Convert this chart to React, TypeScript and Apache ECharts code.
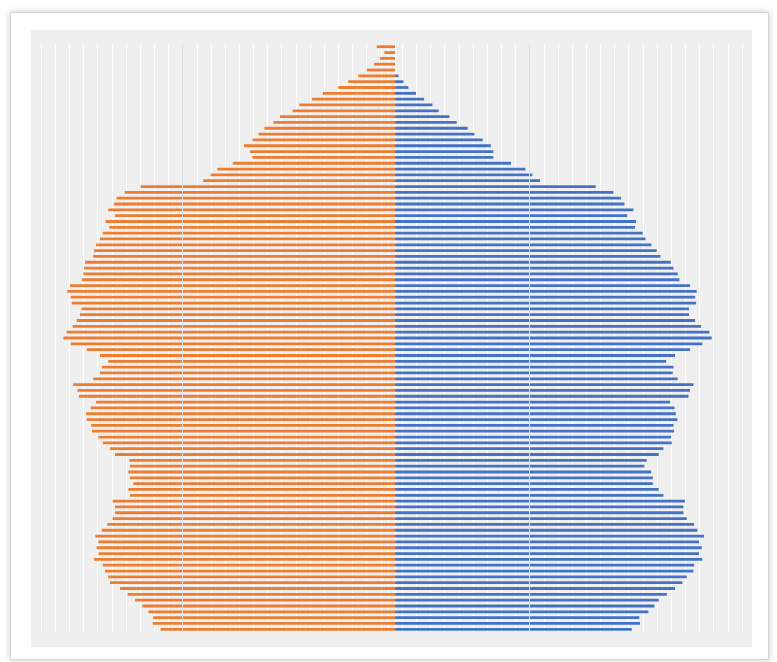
import React, { useEffect, useRef } from "react";
import * as echarts from "echarts";

// Ages from oldest (top row) to youngest (bottom row)
const ages: string[] = [
  "100", "99", "98", "97", "96", "95", "94", "93", "92", "91",
  "90", "89", "88", "87", "86", "85", "84", "83", "82", "81",
  "80", "79", "78", "77", "76", "75", "74", "73", "72", "71",
  "70", "69", "68", "67", "66", "65", "64", "63", "62", "61",
  "60", "59", "58", "57", "56", "55", "54", "53", "52", "51",
  "50", "49", "48", "47", "46", "45", "44", "43", "42", "41",
  "40", "39", "38", "37", "36", "35", "34", "33", "32", "31",
  "30", "29", "28", "27", "26", "25", "24", "23", "22", "21",
  "20", "19", "18", "17", "16", "15", "14", "13", "12", "11",
  "10", "9", "8", "7", "6", "5", "4", "3", "2", "1", "0",
];

// Female population (left, orange), same order as ages
const female: number[] = [
  1.29, 0.75, 1.06, 1.48, 2.0, 2.59, 3.3, 4.0, 5.1, 5.86,
  6.76, 7.23, 8.12, 8.59, 9.23, 9.63, 10.07, 10.66, 10.24, 10.07,
  11.46, 12.55, 13.02, 13.54, 17.96, 19.09, 19.66, 19.84, 20.25, 19.77,
  20.43, 20.18, 20.64, 20.83, 21.12, 21.26, 21.31, 21.89, 21.96, 22.01,
  22.1, 22.95, 23.14, 22.9, 22.83, 22.13, 22.25, 22.48, 22.76, 23.19,
  23.42, 22.9, 21.77, 20.83, 20.25, 20.71, 20.83, 21.31, 22.72, 22.43,
  22.32, 21.12, 21.49, 21.82, 21.77, 21.45, 21.4, 20.95, 20.64, 20.13,
  19.77, 18.76, 18.71, 18.83, 18.71, 18.48, 18.83, 18.71, 19.94, 19.77,
  19.77, 19.94, 20.32, 20.71, 21.17, 20.95, 21.07, 20.93, 21.26, 20.64,
  20.48, 20.25, 20.13, 19.42, 18.88, 18.36, 17.84, 17.42, 17.07, 17.11, 16.55,
];

// Male population (right, blue), same order as ages
const male: number[] = [
  0, 0, 0, 0, 0, 0.24, 0.59, 0.94, 1.48, 2.05,
  2.64, 3.08, 3.84, 4.35, 5.13, 5.6, 6.19, 6.76, 6.94, 6.94,
  8.19, 9.2, 9.7, 10.24, 14.17, 15.42, 15.96, 16.2, 16.83, 16.4,
  17.02, 16.95, 17.49, 17.68, 18.1, 18.48, 18.74, 19.47, 19.66, 19.96,
  20.08, 20.83, 21.3, 21.19, 21.26, 20.76, 20.76, 21.19, 21.61, 22.2,
  22.36, 21.7, 20.83, 19.77, 19.14, 19.66, 19.61, 19.96, 21.07, 20.83,
  20.72, 19.42, 19.73, 19.82, 19.94, 19.66, 19.7, 19.49, 19.54, 18.95,
  18.62, 17.77, 17.61, 18.08, 18.2, 18.2, 18.62, 18.95, 20.48, 20.36,
  20.36, 20.6, 21.12, 21.35, 21.82, 21.47, 21.66, 21.47, 21.7, 21.12,
  21.07, 20.6, 20.29, 19.77, 19.19, 18.62, 18.31, 17.89, 17.25, 17.3, 16.72,
];

const FEMALE_COLOR = "#ED7D31";
const MALE_COLOR = "#4472C4";

export default function App() {
  const ref = useRef<HTMLDivElement>(null);

  useEffect(() => {
    if (!ref.current) return;
    const chart = echarts.init(ref.current, undefined, { renderer: "svg" });

    const hiddenValueAxis = {
      type: "value" as const,
      interval: 1,
      axisLabel: { show: false },
      axisLine: { show: false },
      axisTick: { show: false },
      splitLine: { show: true, lineStyle: { color: "#ffffff", width: 1 } },
    };
    const hiddenCatAxis = {
      type: "category" as const,
      data: ages,
      inverse: true,
      axisLabel: { show: false },
      axisLine: { show: false },
      axisTick: { show: false },
      splitLine: { show: false },
    };

    chart.setOption({
      animation: false,
      backgroundColor: "#ffffff",
      graphic: [
        {
          type: "rect",
          z: -100,
          shape: { x: 10.5, y: 12.5, width: 758, height: 647 },
          style: {
            fill: "#ffffff",
            stroke: "#d6d6d6",
            lineWidth: 1,
            shadowBlur: 6,
            shadowColor: "rgba(0,0,0,0.22)",
          },
        },
        {
          type: "rect",
          z: -99,
          shape: { x: 31, y: 30, width: 721, height: 617 },
          style: { fill: "#efefef" },
        },
      ],
      grid: [
        { left: 41, right: 382, top: 43.8, bottom: 29.8, containLabel: false },
        { left: 388, right: 35, top: 43.8, bottom: 29.8, containLabel: false },
      ],
      xAxis: [
        { ...hiddenValueAxis, gridIndex: 0, inverse: true, min: 0, max: 25 },
        { ...hiddenValueAxis, gridIndex: 1, min: -0.5, max: 24.5 },
      ],
      yAxis: [
        { ...hiddenCatAxis, gridIndex: 0 },
        { ...hiddenCatAxis, gridIndex: 1 },
      ],
      series: [
        {
          name: "Female",
          type: "bar",
          xAxisIndex: 0,
          yAxisIndex: 0,
          data: female,
          barWidth: 2.8,
          itemStyle: { color: FEMALE_COLOR },
          markLine: {
            silent: true,
            symbol: "none",
            label: { show: false },
            lineStyle: { color: "#dedede", type: "solid", width: 1 },
            data: [{ xAxis: 15 }],
          },
        },
        {
          name: "Male",
          type: "bar",
          xAxisIndex: 1,
          yAxisIndex: 1,
          data: male,
          barWidth: 2.8,
          itemStyle: { color: MALE_COLOR },
          markLine: {
            silent: true,
            symbol: "none",
            label: { show: false },
            lineStyle: { color: "#dedede", type: "solid", width: 1 },
            data: [{ xAxis: 9.5 }],
          },
        },
      ],
    });

    return () => chart.dispose();
  }, []);

  return (
    <div
      ref={ref}
      style={{ position: "fixed", left: 0, top: 0, width: 777, height: 662 }}
    />
  );
}
